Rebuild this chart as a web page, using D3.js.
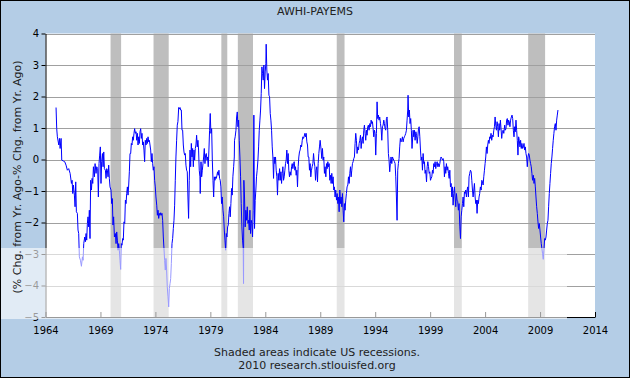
<!DOCTYPE html>
<html>
<head>
<meta charset="utf-8">
<script src="https://cdn.jsdelivr.net/npm/d3@7"></script>
<style>
  body { margin: 0; }
  svg { display: block; }
  text { font-family: "DejaVu Sans", Verdana, sans-serif; }
</style>
</head>
<body>
<div id="chart"></div>
<script>
var w = 630;
var h = 378;

var title = "AWHI-PAYEMS";
var yLabel = "(% Chg. from Yr. Ago-% Chg. from Yr. Ago)";
var notes = ["Shaded areas indicate US recessions.", "2010 research.stlouisfed.org"];

var xTicks = [1964, 1969, 1974, 1979, 1984, 1989, 1994, 1999, 2004, 2009, 2014];
var yTicks = [-5, -4, -3, -2, -1, 0, 1, 2, 3, 4];

// US recessions (start, end) in decimal years
var recessions = [
  [1969.92, 1970.88], [1973.83, 1975.21], [1980.0, 1980.54], [1981.5, 1982.88],
  [1990.5, 1991.21], [2001.17, 2001.88], [2007.92, 2009.46]
];

// [decimal year, value]
var series = [
  [1964.96,1.65],[1965.02,0.98],[1965.08,0.72],[1965.21,0.46],[1965.27,0.67],[1965.33,0.35],[1965.42,0.67],[1965.48,-0.02],
  [1965.63,-0.05],[1965.75,-0.07],[1965.87,-0.18],[1965.99,-0.34],[1966.11,-0.29],[1966.24,-0.44],[1966.36,-0.76],[1966.42,-0.66],
  [1966.48,-1.08],[1966.54,-0.81],[1966.63,-1.13],[1966.69,-1.50],[1966.75,-0.71],[1966.81,-1.66],[1966.90,-1.71],[1966.96,-2.24],
  [1967.02,-2.35],[1967.08,-3.09],[1967.18,-3.20],[1967.27,-3.39],[1967.36,-3.09],[1967.42,-3.20],[1967.48,-2.67],[1967.57,-2.46],
  [1967.63,-2.61],[1967.69,-2.35],[1967.75,-2.56],[1967.81,-2.03],[1967.87,-1.82],[1967.93,-2.14],[1967.99,-1.61],[1968.05,-2.51],
  [1968.11,-0.66],[1968.18,-0.97],[1968.24,-0.60],[1968.30,-0.76],[1968.36,-0.23],[1968.45,-0.55],[1968.51,-0.13],[1968.60,-0.44],
  [1968.66,-0.23],[1968.75,-0.29],[1968.81,-1.19],[1968.87,-0.13],[1968.93,0.14],[1968.99,0.40],[1969.05,-0.76],[1969.11,-0.07],
  [1969.18,0.19],[1969.24,-0.23],[1969.30,0.24],[1969.36,-0.29],[1969.45,-0.34],[1969.51,-0.60],[1969.57,-0.29],[1969.63,-0.34],
  [1969.69,-0.55],[1969.75,-0.18],[1969.81,-0.60],[1969.87,-0.87],[1969.96,-0.97],[1970.02,-1.40],[1970.08,-1.24],[1970.14,-2.08],
  [1970.20,-1.82],[1970.27,-2.46],[1970.36,-2.35],[1970.42,-2.67],[1970.48,-2.30],[1970.54,-2.56],[1970.60,-2.88],[1970.66,-2.67],
  [1970.72,-2.88],[1970.78,-3.20],[1970.84,-3.49],[1970.90,-2.67],[1970.96,-2.72],[1971.02,-2.51],[1971.08,-2.56],[1971.14,-1.98],
  [1971.21,-2.03],[1971.27,-1.29],[1971.33,-1.40],[1971.39,-1.08],[1971.45,-0.87],[1971.51,-1.13],[1971.57,-0.81],[1971.63,-0.39],
  [1971.69,0.19],[1971.75,0.19],[1971.81,0.51],[1971.87,0.46],[1971.93,0.72],[1971.99,0.61],[1972.05,0.83],[1972.11,0.98],
  [1972.18,0.83],[1972.24,0.88],[1972.30,0.61],[1972.36,0.83],[1972.42,0.46],[1972.48,0.72],[1972.54,0.51],[1972.60,0.88],
  [1972.66,0.98],[1972.72,0.67],[1972.78,0.83],[1972.84,0.46],[1972.90,0.56],[1972.96,0.30],[1973.02,-0.07],[1973.08,0.61],
  [1973.15,0.46],[1973.21,0.67],[1973.27,0.51],[1973.33,0.72],[1973.39,0.56],[1973.45,0.61],[1973.51,0.46],[1973.57,0.30],
  [1973.63,-0.07],[1973.69,0.19],[1973.75,-0.13],[1973.81,-0.34],[1973.87,-0.23],[1973.93,-0.66],[1973.99,-0.87],[1974.05,-1.19],
  [1974.12,-1.45],[1974.18,-1.77],[1974.24,-1.61],[1974.30,-1.87],[1974.36,-1.71],[1974.42,-1.77],[1974.48,-1.69],[1974.54,-1.77],
  [1974.60,-1.71],[1974.66,-1.93],[1974.72,-2.46],[1974.78,-2.83],[1974.84,-3.20],[1974.90,-3.51],[1974.96,-3.14],[1975.02,-3.51],
  [1975.08,-4.04],[1975.15,-4.36],[1975.21,-4.68],[1975.27,-4.10],[1975.33,-3.94],[1975.39,-3.78],[1975.45,-3.30],[1975.51,-2.67],
  [1975.57,-2.51],[1975.63,-2.19],[1975.69,-1.93],[1975.75,-1.45],[1975.81,-0.66],[1975.87,0.08],[1975.93,0.61],[1975.99,1.09],
  [1976.05,1.20],[1976.12,1.65],[1976.18,1.60],[1976.24,1.65],[1976.30,1.57],[1976.36,1.57],[1976.42,0.93],[1976.48,0.93],
  [1976.54,0.46],[1976.60,0.24],[1976.66,0.14],[1976.72,0.19],[1976.78,-0.18],[1976.84,-0.34],[1976.90,-0.39],[1976.96,-1.19],
  [1977.02,-1.87],[1977.08,-0.66],[1977.15,0.30],[1977.21,-0.23],[1977.27,0.51],[1977.33,0.08],[1977.39,0.35],[1977.45,-0.23],
  [1977.51,0.30],[1977.57,-0.02],[1977.63,0.35],[1977.69,0.46],[1977.75,0.77],[1977.81,0.40],[1977.87,0.61],[1977.93,0.30],
  [1977.99,-0.34],[1978.05,-0.55],[1978.08,-1.08],[1978.15,-0.07],[1978.21,-0.55],[1978.27,-0.34],[1978.33,-0.13],[1978.39,0.08],
  [1978.45,0.35],[1978.51,-0.13],[1978.57,0.14],[1978.63,0.19],[1978.69,-0.02],[1978.75,0.08],[1978.81,-0.23],[1978.87,0.30],
  [1978.93,0.93],[1978.99,1.46],[1979.05,0.83],[1979.12,0.98],[1979.18,-0.02],[1979.24,-0.66],[1979.30,-1.19],[1979.36,-0.55],
  [1979.42,-0.66],[1979.48,-0.55],[1979.54,-0.60],[1979.60,-0.50],[1979.66,-0.39],[1979.72,-0.50],[1979.78,-0.34],[1979.84,-0.60],
  [1979.90,-0.66],[1979.96,-0.87],[1980.02,-1.40],[1980.08,-1.19],[1980.15,-1.61],[1980.21,-1.82],[1980.27,-2.24],[1980.33,-2.56],
  [1980.39,-2.88],[1980.45,-2.35],[1980.51,-2.46],[1980.57,-2.14],[1980.63,-2.08],[1980.69,-1.71],[1980.75,-1.50],[1980.81,-1.82],
  [1980.87,-1.40],[1980.93,-0.92],[1980.99,-1.13],[1981.05,-0.55],[1981.12,-0.23],[1981.18,0.08],[1981.20,0.61],[1981.26,0.72],
  [1981.33,0.93],[1981.39,1.35],[1981.45,1.51],[1981.51,1.04],[1981.57,1.25],[1981.63,0.61],[1981.69,0.08],[1981.75,-0.55],
  [1981.81,-1.40],[1981.87,-2.14],[1981.93,-2.56],[1981.99,-2.83],[1982.02,-3.94],[1982.05,-0.66],[1982.11,-1.19],[1982.17,-2.14],
  [1982.23,-1.61],[1982.30,-1.93],[1982.36,-1.50],[1982.42,-2.03],[1982.48,-1.93],[1982.54,-2.24],[1982.60,-1.61],[1982.66,-2.35],
  [1982.72,-1.93],[1982.78,-2.03],[1982.84,-2.46],[1982.90,-1.61],[1982.96,1.41],[1983.02,-2.19],[1983.08,-1.30],[1983.14,-0.97],
  [1983.20,-0.55],[1983.26,-0.34],[1983.33,-0.02],[1983.39,0.40],[1983.45,0.93],[1983.51,1.25],[1983.57,1.57],[1983.63,2.10],
  [1983.69,2.94],[1983.75,2.73],[1983.81,2.52],[1983.87,3.00],[1983.93,2.25],[1983.99,2.78],[1984.05,3.05],[1984.08,3.66],
  [1984.14,2.84],[1984.20,2.52],[1984.26,2.73],[1984.33,2.04],[1984.39,1.99],[1984.45,1.46],[1984.51,1.25],[1984.57,0.93],
  [1984.63,0.40],[1984.69,0.08],[1984.75,-0.60],[1984.81,0.08],[1984.87,-0.13],[1984.93,0.08],[1984.99,-0.34],[1985.05,-0.55],
  [1985.11,-1.13],[1985.17,-0.44],[1985.23,-0.66],[1985.30,-0.29],[1985.36,-0.66],[1985.42,-0.39],[1985.48,-0.76],[1985.54,-0.44],
  [1985.60,-0.23],[1985.66,-0.66],[1985.72,-0.55],[1985.78,-0.34],[1985.84,-0.13],[1985.90,-0.02],[1985.96,0.30],[1986.02,-0.13],
  [1986.08,0.19],[1986.14,-0.34],[1986.20,-0.55],[1986.26,-0.39],[1986.33,-0.50],[1986.39,-0.23],[1986.45,-0.13],[1986.51,-0.29],
  [1986.57,-0.13],[1986.63,-0.07],[1986.69,-0.34],[1986.75,-0.23],[1986.81,-0.50],[1986.87,-0.34],[1986.93,-0.87],[1986.99,-0.23],
  [1987.05,0.08],[1987.11,0.24],[1987.17,0.30],[1987.23,0.46],[1987.30,0.40],[1987.36,0.61],[1987.42,0.72],[1987.48,0.67],
  [1987.54,0.74],[1987.60,0.83],[1987.66,0.72],[1987.72,0.83],[1987.78,0.56],[1987.84,0.46],[1987.90,0.08],[1987.96,0.08],
  [1988.02,-0.34],[1988.08,-0.13],[1988.14,-0.55],[1988.20,-0.34],[1988.26,-0.23],[1988.33,-0.13],[1988.39,0.19],[1988.45,-0.07],
  [1988.51,-0.23],[1988.57,-0.66],[1988.63,-0.34],[1988.69,-0.23],[1988.75,-0.71],[1988.81,-0.13],[1988.87,0.19],[1988.93,0.40],
  [1988.99,0.61],[1989.08,0.30],[1989.14,0.03],[1989.20,0.35],[1989.26,-0.02],[1989.32,0.08],[1989.38,-0.44],[1989.44,-0.23],
  [1989.51,-0.55],[1989.57,-0.13],[1989.63,-0.29],[1989.69,-0.07],[1989.75,-0.23],[1989.81,-0.13],[1989.87,-0.66],[1989.93,-0.50],
  [1989.99,-0.76],[1990.05,-0.44],[1990.11,-0.76],[1990.17,-0.55],[1990.23,-0.97],[1990.29,-0.87],[1990.35,-1.19],[1990.41,-0.97],
  [1990.48,-1.29],[1990.54,-1.08],[1990.60,-1.40],[1990.66,-1.19],[1990.72,-1.66],[1990.78,-0.97],[1990.84,-1.40],[1990.90,-1.19],
  [1990.96,-1.50],[1991.02,-1.08],[1991.08,-1.61],[1991.14,-1.98],[1991.20,-1.40],[1991.26,-1.61],[1991.32,-1.29],[1991.38,-1.08],
  [1991.44,-0.87],[1991.51,-0.81],[1991.57,-0.55],[1991.63,-0.76],[1991.69,-0.44],[1991.75,-0.23],[1991.81,-0.55],[1991.87,-0.34],
  [1991.93,-0.13],[1991.99,-0.07],[1992.05,0.03],[1992.11,0.08],[1992.17,0.51],[1992.23,0.83],[1992.29,0.61],[1992.35,0.19],
  [1992.41,0.40],[1992.48,0.30],[1992.54,0.51],[1992.60,0.61],[1992.66,0.77],[1992.72,0.35],[1992.78,0.61],[1992.84,0.72],
  [1992.90,0.51],[1992.96,0.93],[1993.02,1.09],[1993.08,0.83],[1993.14,0.61],[1993.20,0.93],[1993.26,0.77],[1993.32,1.04],
  [1993.38,1.09],[1993.44,0.93],[1993.51,1.14],[1993.57,1.04],[1993.63,1.25],[1993.69,1.14],[1993.75,1.20],[1993.81,0.98],
  [1993.87,0.72],[1993.93,0.93],[1993.99,0.83],[1994.05,0.14],[1994.11,0.83],[1994.17,1.83],[1994.23,1.30],[1994.29,1.41],
  [1994.35,1.25],[1994.41,1.35],[1994.48,1.14],[1994.54,0.98],[1994.60,0.61],[1994.66,1.04],[1994.72,1.09],[1994.78,1.25],
  [1994.84,1.14],[1994.90,0.98],[1994.96,0.93],[1995.02,1.30],[1995.08,1.35],[1995.14,0.93],[1995.20,0.19],[1995.26,-0.02],
  [1995.32,-0.39],[1995.38,-0.13],[1995.44,0.08],[1995.51,-0.13],[1995.57,0.08],[1995.63,0.03],[1995.69,-0.02],[1995.75,-0.07],
  [1995.81,-0.13],[1995.87,-0.55],[1995.93,-1.19],[1995.99,-1.93],[1996.05,-0.34],[1996.11,-0.13],[1996.17,0.03],[1996.23,0.40],
  [1996.29,0.67],[1996.35,0.56],[1996.41,0.61],[1996.48,0.72],[1996.54,0.56],[1996.60,0.67],[1996.66,0.72],[1996.72,0.77],
  [1996.78,0.83],[1996.84,0.93],[1996.90,1.25],[1996.96,1.57],[1996.99,2.04],[1997.05,1.35],[1997.11,1.57],[1997.17,1.14],
  [1997.23,1.30],[1997.29,0.93],[1997.35,0.35],[1997.45,0.93],[1997.51,0.72],[1997.57,0.93],[1997.63,0.61],[1997.70,0.88],
  [1997.76,0.77],[1997.82,0.51],[1997.88,0.72],[1997.94,0.98],[1998.00,1.04],[1998.06,0.72],[1998.12,0.30],[1998.18,-0.02],
  [1998.24,0.08],[1998.30,-0.34],[1998.36,0.19],[1998.42,-0.13],[1998.48,-0.07],[1998.54,-0.44],[1998.60,-0.34],[1998.67,-0.71],
  [1998.73,-0.23],[1998.79,-0.07],[1998.85,-0.23],[1998.91,-0.44],[1998.97,-0.39],[1999.03,-0.66],[1999.09,-0.60],[1999.15,-0.55],
  [1999.21,-0.34],[1999.27,-0.44],[1999.33,-0.13],[1999.39,-0.23],[1999.45,-0.07],[1999.51,-0.29],[1999.57,-0.13],[1999.64,-0.07],
  [1999.70,-0.23],[1999.76,-0.13],[1999.82,-0.23],[1999.88,-0.13],[1999.94,0.03],[2000.00,0.08],[2000.06,0.03],[2000.12,-0.02],
  [2000.18,0.03],[2000.24,-0.07],[2000.30,-0.55],[2000.36,-0.23],[2000.42,-0.44],[2000.48,-0.13],[2000.54,-0.34],[2000.60,-0.23],
  [2000.67,-0.44],[2000.73,-0.60],[2000.79,-0.34],[2000.85,-0.87],[2000.91,-0.76],[2000.97,-1.19],[2001.03,-0.87],[2001.09,-1.45],
  [2001.15,-1.08],[2001.21,-0.87],[2001.27,-1.19],[2001.33,-1.50],[2001.39,-1.08],[2001.45,-1.29],[2001.51,-1.34],[2001.57,-1.61],
  [2001.63,-1.40],[2001.70,-2.14],[2001.76,-2.51],[2001.82,-1.82],[2001.88,-1.61],[2001.94,-1.40],[2002.00,-1.19],[2002.06,-1.50],
  [2002.12,-1.03],[2002.18,-1.08],[2002.24,-0.97],[2002.30,-1.19],[2002.36,-0.97],[2002.42,-0.87],[2002.48,-1.19],[2002.54,-0.55],
  [2002.60,-0.44],[2002.67,-0.34],[2002.73,-0.39],[2002.79,-0.66],[2002.85,-0.97],[2002.91,-1.19],[2002.97,-0.97],[2003.03,-0.76],
  [2003.09,-1.19],[2003.15,-1.40],[2003.21,-1.29],[2003.27,-1.71],[2003.33,-1.29],[2003.39,-1.40],[2003.45,-1.19],[2003.51,-1.08],
  [2003.57,-0.87],[2003.64,-0.97],[2003.70,-0.66],[2003.76,-0.71],[2003.82,-0.81],[2003.88,-0.55],[2003.94,-0.34],[2004.00,-0.13],
  [2004.06,0.08],[2004.12,0.40],[2004.18,0.19],[2004.24,0.46],[2004.30,0.61],[2004.36,0.51],[2004.42,0.72],[2004.48,0.67],
  [2004.54,0.83],[2004.60,0.61],[2004.67,0.77],[2004.73,0.72],[2004.79,0.93],[2004.85,1.04],[2004.91,1.35],[2004.97,1.09],
  [2005.03,0.93],[2005.09,1.20],[2005.15,1.04],[2005.21,0.72],[2005.27,1.14],[2005.33,0.93],[2005.39,1.25],[2005.45,0.98],
  [2005.51,0.67],[2005.57,0.88],[2005.64,0.93],[2005.70,0.83],[2005.78,1.09],[2005.84,0.93],[2005.90,0.98],[2005.96,1.25],
  [2006.02,1.30],[2006.08,1.09],[2006.14,1.25],[2006.20,1.20],[2006.26,1.04],[2006.32,1.25],[2006.39,1.35],[2006.45,1.41],
  [2006.51,1.30],[2006.57,0.93],[2006.63,0.72],[2006.69,1.04],[2006.75,0.88],[2006.81,1.25],[2006.87,0.93],[2006.93,0.61],
  [2006.99,0.14],[2007.05,0.72],[2007.11,0.61],[2007.17,0.40],[2007.23,0.61],[2007.29,0.35],[2007.35,0.51],[2007.42,0.35],
  [2007.48,0.40],[2007.54,0.51],[2007.60,0.30],[2007.66,0.40],[2007.72,0.19],[2007.78,0.08],[2007.84,-0.23],[2007.90,0.08],
  [2007.96,0.19],[2008.02,0.14],[2008.08,-0.02],[2008.14,-0.13],[2008.20,-0.23],[2008.26,-0.44],[2008.32,-0.66],[2008.39,-0.50],
  [2008.45,-0.76],[2008.51,-0.60],[2008.57,-0.87],[2008.63,-1.19],[2008.69,-1.50],[2008.75,-1.71],[2008.81,-1.98],[2008.87,-2.19],
  [2008.93,-2.03],[2008.99,-2.24],[2009.05,-2.46],[2009.11,-2.67],[2009.17,-2.83],[2009.23,-2.99],[2009.29,-3.17],[2009.35,-2.88],
  [2009.42,-2.51],[2009.48,-2.56],[2009.54,-2.46],[2009.60,-2.24],[2009.66,-2.03],[2009.72,-1.93],[2009.78,-1.50],[2009.84,-1.08],
  [2009.90,-0.76],[2009.96,-0.44],[2010.02,-0.13],[2010.08,0.08],[2010.14,0.35],[2010.20,0.61],[2010.26,0.83],[2010.32,1.04],
  [2010.39,1.14],[2010.45,0.93],[2010.51,1.25],[2010.57,1.41],[2010.63,1.57]
];

var svg = d3.select("#chart")
    .append("svg")
    .attr("width", w)
    .attr("height", h);

// outer frame
svg.append("rect")
    .attr("x", 0.5).attr("y", 0.5)
    .attr("width", w - 1).attr("height", h - 1)
    .attr("fill", "#b4cde6")
    .attr("stroke", "#000");

var x = d3.scaleLinear().domain([1964, 2014]).range([45.5, 595]);
var y = d3.scaleLinear().domain([-5, 4]).range([317, 33.5]);

// plot area
svg.append("rect")
    .attr("x", x(1964)).attr("y", y(4))
    .attr("width", x(2014) - x(1964))
    .attr("height", y(-5) - y(4))
    .attr("fill", "#fff");

// recession bands
svg.selectAll("rect.rec")
    .data(recessions)
    .enter()
    .append("rect")
    .attr("class", "rec")
    .attr("x", function(d) { return x(d[0]); })
    .attr("y", y(4))
    .attr("width", function(d) { return x(d[1]) - x(d[0]); })
    .attr("height", y(-5) - y(4))
    .attr("fill", "#bebebe");

// horizontal grid
svg.selectAll("line.grid")
    .data(yTicks.filter(function(d) { return d > -5; }))
    .enter()
    .append("line")
    .attr("class", "grid")
    .attr("x1", x(1964)).attr("x2", x(2014))
    .attr("y1", function(d) { return Math.round(y(d)) + 0.5; })
    .attr("y2", function(d) { return Math.round(y(d)) + 0.5; })
    .attr("stroke", "#a0a0a0");

// the series
var line = d3.line()
    .x(function(d) { return x(d[0]); })
    .y(function(d) { return y(d[1]); });

svg.append("path")
    .datum(series)
    .attr("d", line)
    .attr("fill", "none")
    .attr("stroke", "#0000ff")
    .attr("stroke-width", 1);

// axes
var yAxis = d3.axisLeft(y)
    .tickValues(yTicks)
    .tickSize(4)
    .tickSizeOuter(0)
    .tickPadding(2.5);

var gy = svg.append("g")
    .attr("transform", "translate(" + x(1964) + ",0)")
    .call(yAxis);
gy.selectAll("text").attr("font-size", 10).attr("fill", "#000")
    .style("font-family", "'DejaVu Sans', Verdana, sans-serif");
gy.select(".domain").attr("stroke", "#000");

var xAxis = d3.axisBottom(x)
    .tickValues(xTicks)
    .tickFormat(d3.format("d"))
    .tickSize(-5)
    .tickSizeOuter(0)
    .tickPadding(10);

var gx = svg.append("g")
    .attr("transform", "translate(0," + y(-5) + ")")
    .call(xAxis);
gx.selectAll("text").attr("font-size", 10).attr("fill", "#000")
    .style("font-family", "'DejaVu Sans', Verdana, sans-serif");
gx.select(".domain").attr("stroke", "#000");

// translucent band along the lower left
svg.append("rect")
    .attr("x", 1).attr("y", 248)
    .attr("width", 566).attr("height", 71)
    .attr("fill", "#fff")
    .attr("fill-opacity", 0.6);

// texts
svg.append("text")
    .attr("x", 315).attr("y", 15)
    .attr("text-anchor", "middle")
    .attr("font-size", 11)
    .attr("fill", "#222")
    .text(title);

svg.append("text")
    .attr("transform", "translate(21,177) rotate(-90)")
    .attr("text-anchor", "middle")
    .attr("font-size", 11)
    .attr("fill", "#222")
    .text(yLabel);

svg.selectAll("text.note")
    .data(notes)
    .enter()
    .append("text")
    .attr("class", "note")
    .attr("x", 317)
    .attr("y", function(d, i) { return 356 + i * 12.5; })
    .attr("text-anchor", "middle")
    .attr("font-size", 11)
    .attr("fill", "#222")
    .text(function(d) { return d; });
</script>
</body>
</html>
